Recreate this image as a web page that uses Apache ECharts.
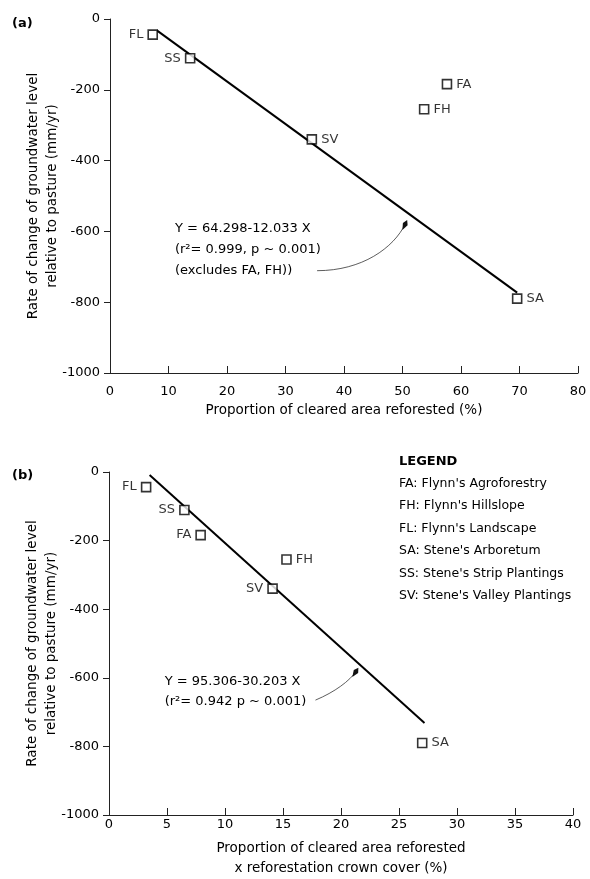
<!DOCTYPE html>
<html><head><meta charset="utf-8">
<script src="https://cdn.jsdelivr.net/npm/echarts@6/dist/echarts.min.js"></script>
<style>html,body{margin:0;padding:0;background:#fff}#c{width:590px;height:879px}</style>
</head><body><div id="c"></div>
<script>
// ---- data (panel a) ----
const sitesA = ['FL', 'SS', 'SV', 'FA', 'FH', 'SA'];
const reforestedPct = [7.3, 13.7, 34.5, 57.6, 53.7, 69.6];
const rateA = [-44, -111, -340, -184, -255, -790];
const fitAX = [8.0, 69.6];
const fitAY = [-32, -773];
// ---- data (panel b) ----
const sitesB = ['FL', 'SS', 'FA', 'SV', 'FH', 'SA'];
const reforestedCrownPct = [3.2, 6.5, 7.9, 14.1, 15.3, 27.0];
const rateB = [-44, -111, -184, -340, -255, -790];
const fitBX = [3.5, 27.2];
const fitBY = [-9, -732];
// ---- texts ----
const legendTitle = 'LEGEND';
const legendLines = [
  "FA: Flynn's Agroforestry",
  "FH: Flynn's Hillslope",
  "FL: Flynn's Landscape",
  "SA: Stene's Arboretum",
  "SS: Stene's Strip Plantings",
  "SV: Stene's Valley Plantings"
];
const yName = 'Rate of change of groundwater level\nrelative to pasture (mm/yr)';
const xNameA = 'Proportion of cleared area reforested (%)';
const xNameB = 'Proportion of cleared area reforested\nx reforestation crown cover (%)';

const FONT = 'DejaVu Sans';
const INK = '#000';
const chart = echarts.init(document.getElementById('c'), null, {renderer: 'canvas'});

const posA = {FL: 'left', SS: 'left', SV: 'right', FA: 'right', FH: 'right', SA: 'right'};
const posB = {FL: 'left', SS: 'left', FA: 'left', SV: 'left', FH: 'right', SA: 'right'};

function pts(names, xs, ys, pos) {
  return names.map((n, i) => ({
    name: n, value: [xs[i], ys[i]],
    label: {position: pos[n]}
  }));
}
function yAxisCfg(gi) {
  return {
    gridIndex: gi, type: 'value', min: -1000, max: 0, interval: 200,
    name: yName, nameLocation: 'middle', nameRotate: 90, nameGap: 48, nameMoveOverlap: false,
    nameTextStyle: {fontFamily: FONT, fontSize: 13.5, color: INK, lineHeight: 19},
    axisLine: {show: true, onZero: false, lineStyle: {color: '#222', width: 1}},
    axisTick: {show: true, inside: false, length: 6, lineStyle: {color: '#222'}},
    axisLabel: {fontFamily: FONT, fontSize: 13, color: INK, margin: 10, formatter: v => String(v)},
    splitLine: {show: false}
  };
}
function xAxisCfg(gi, max, step, name, gap, margin) {
  return {
    gridIndex: gi, type: 'value', min: 0, max: max, interval: step,
    name: name, nameLocation: 'middle', nameGap: gap,
    nameTextStyle: {fontFamily: FONT, fontSize: 13.5, color: INK, lineHeight: 20},
    axisLine: {onZero: false, lineStyle: {color: '#222'}},
    axisTick: {inside: true, length: 7, lineStyle: {color: '#222'}},
    axisLabel: {fontFamily: FONT, fontSize: 13, color: INK, margin: margin, formatter: v => String(v)},
    splitLine: {show: false}
  };
}
const scatterStyle = {
  type: 'scatter', symbol: 'rect', symbolSize: 9, z: 5,
  itemStyle: {color: '#fff', borderColor: '#000', borderWidth: 1.6},
  label: {show: true, formatter: '{b}', fontFamily: FONT, fontSize: 13, color: INK, distance: 4}
};

chart.setOption({
  animation: false,
  backgroundColor: '#fff',
  grid: [
    {left: 110, top: 19, width: 468, height: 354},
    {left: 109, top: 472, width: 464, height: 343}
  ],
  xAxis: [
    xAxisCfg(0, 80, 10, xNameA, 27, 12),
    xAxisCfg(1, 40, 5, xNameB, 23, 3)
  ],
  yAxis: [yAxisCfg(0), yAxisCfg(1)],
  series: [
    {
      type: 'line', xAxisIndex: 0, yAxisIndex: 0, symbol: 'none', z: 2,
      lineStyle: {color: '#000', width: 2},
      data: fitAX.map((x, i) => [x, fitAY[i]])
    },
    {
      type: 'line', xAxisIndex: 1, yAxisIndex: 1, symbol: 'none', z: 2,
      lineStyle: {color: '#000', width: 2},
      data: fitBX.map((x, i) => [x, fitBY[i]])
    },
    Object.assign({}, scatterStyle, {xAxisIndex: 0, yAxisIndex: 0, data: pts(sitesA, reforestedPct, rateA, posA)}),
    Object.assign({}, scatterStyle, {xAxisIndex: 1, yAxisIndex: 1, data: pts(sitesB, reforestedCrownPct, rateB, posB)})
  ]
});

// ---- annotations (anchored in data coordinates) ----
const annA = {text: [11.1, -563], from: [35.4, -711], to: [50.8, -568]};
const annB = {text: [4.8, -583], from: [17.8, -665], to: [21.5, -571]};

function px(gi, p) { return chart.convertToPixel({gridIndex: gi}, p); }

function arrow(gi, a, c1, c2) {
  const s = px(gi, a.from), e = px(gi, a.to);
  const cp1 = [s[0] + (e[0] - s[0]) * c1[0], s[1] + (e[1] - s[1]) * c1[1]];
  const cp2 = [s[0] + (e[0] - s[0]) * c2[0], s[1] + (e[1] - s[1]) * c2[1]];
  let dx = e[0] - cp2[0], dy = e[1] - cp2[1];
  const L = Math.hypot(dx, dy); dx /= L; dy /= L;
  const nx = -dy, ny = dx, len = 11, w = 2.6;
  const b = [e[0] - dx * len, e[1] - dy * len];
  const m = [e[0] - dx * len * 0.4, e[1] - dy * len * 0.4];
  return [
    {type: 'bezierCurve', silent: true, z: 10,
      shape: {x1: s[0], y1: s[1], x2: e[0] - dx * 4, y2: e[1] - dy * 4, cpx1: cp1[0], cpy1: cp1[1], cpx2: cp2[0], cpy2: cp2[1]},
      style: {stroke: '#333', lineWidth: 0.8, fill: null}},
    {type: 'polygon', silent: true, z: 11,
      shape: {points: [e, [m[0] + nx * w, m[1] + ny * w], b, [m[0] - nx * w, m[1] - ny * w]]},
      style: {fill: '#111'}}
  ];
}

const tA = px(0, annA.text), tB = px(1, annB.text);

const graphics = [
  {type: 'text', left: 12, top: 17, style: {text: '(a)', fontFamily: FONT, fontSize: 13, fontWeight: 'bold', fill: INK}},
  {type: 'text', left: 12, top: 469, style: {text: '(b)', fontFamily: FONT, fontSize: 13, fontWeight: 'bold', fill: INK}},
  {type: 'text', x: tA[0], y: tA[1], silent: true,
    style: {text: 'Y = 64.298-12.033 X\n(r\u00B2= 0.999, p ~ 0.001)\n(excludes FA, FH))',
      lineHeight: 21, fontFamily: FONT, fontSize: 13, fill: INK}},
  {type: 'text', x: tB[0], y: tB[1], silent: true,
    style: {text: 'Y = 95.306-30.203 X\n(r\u00B2= 0.942 p ~ 0.001)',
      lineHeight: 20, fontFamily: FONT, fontSize: 13, fill: INK}},
  {type: 'text', x: 399, y: 462, style: {text: legendTitle, fontFamily: FONT, fontSize: 13, fontWeight: 'bold', fill: INK, verticalAlign: 'middle'}}
];
legendLines.forEach((t, i) => {
  graphics.push({type: 'text', x: 399, y: 483.5 + i * 22.5,
    style: {text: t, fontFamily: FONT, fontSize: 12.5, fill: INK, verticalAlign: 'middle'}});
});
arrow(0, annA, [0.5, 0.0], [0.85, 0.45]).forEach(g => graphics.push(g));
arrow(1, annB, [0.45, 0.25], [0.8, 0.6]).forEach(g => graphics.push(g));

chart.setOption({graphic: graphics});
</script>
</body></html>
